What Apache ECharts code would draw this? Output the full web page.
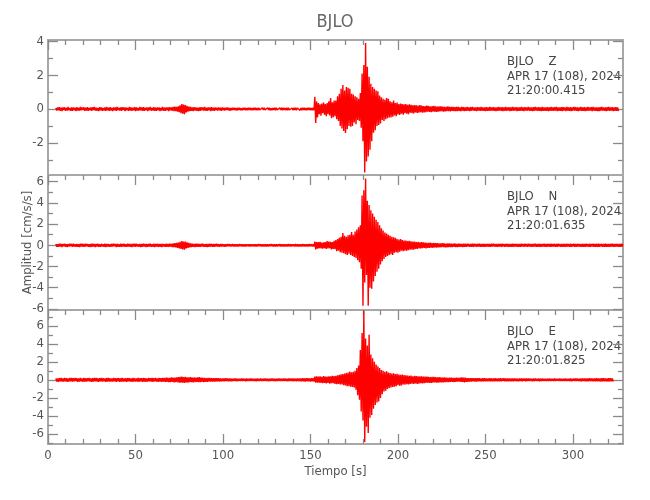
<!DOCTYPE html>
<html>
<head>
<meta charset="utf-8">
<script src="https://cdn.jsdelivr.net/npm/echarts@6/dist/echarts.min.js"></script>
<style>html,body{margin:0;padding:0;background:#fff}#c{width:650px;height:500px}</style>
</head>
<body>
<div id="c"></div>
<script>
// Sampling of the traces (seconds)
const T0 = 4.5;
const DT = 0.5;

// Acceleration samples [cm/s/s], component Z
const zAccel = [
.06,-.09,.1,-.07,.11,-.1,.08,-.12,.09,-.06,.1,-.11,.07,-.09,.12,-.08,.06,-.1,.09,-.11,
.1,-.07,.08,-.12,.11,-.09,.07,-.1,.12,-.08,.09,-.06,.1,-.11,.08,-.09,.11,-.1,.07,-.08,
.09,-.11,.1,-.06,.12,-.09,.08,-.1,.07,-.12,.11,-.08,.09,-.1,.06,-.09,.1,-.11,.12,-.07,
.08,-.1,.11,-.09,.07,-.12,.1,-.08,.09,-.11,.12,-.07,.08,-.09,.1,-.1,.11,-.06,.09,-.12,
.1,-.08,.07,-.11,.12,-.09,.09,-.1,.08,-.07,.11,-.12,.1,-.09,.07,-.1,.12,-.08,.09,-.11,
.11,-.1,.08,-.07,.1,-.12,.09,-.08,.12,-.1,.07,-.09,.11,-.11,.08,-.1,.1,-.07,.09,-.12,
.07,-.09,.12,-.1,.08,-.11,.1,-.08,.09,-.12,.11,-.07,.1,-.1,.12,-.13,.14,-.12,.13,-.15,
.16,-.18,.22,-.25,.3,-.28,.26,-.3,.24,-.2,.18,-.16,.14,-.13,.12,-.11,.1,-.12,.11,-.09,
.1,-.11,.08,-.12,.09,-.1,.11,-.08,.1,-.09,.12,-.1,.08,-.11,.09,-.07,.1,-.12,.11,-.09,
.08,-.1,.09,-.08,.07,-.09,.1,-.07,.08,-.1,.09,-.08,.07,-.09,.08,-.06,.09,-.08,.07,-.1,
.06,-.08,.07,-.06,.08,-.07,.06,-.09,.07,-.06,.08,-.07,.05,-.08,.07,-.06,.08,-.07,.06,-.08,
.07,-.06,.08,-.07,.06,-.08,.07,-.05,.08,-.07,.06,-.08,.07,-.06,.05,-.07,.08,-.06,.07,-.05,
.06,-.07,.08,-.06,.07,-.08,.05,-.07,.06,-.06,.08,-.07,.07,-.05,.06,-.08,.07,-.06,.08,-.07,
.07,-.06,.06,-.08,.07,-.07,.08,-.06,.05,-.07,.06,-.08,.07,-.06,.08,-.07,.06,-.05,.07,-.08,
.06,-.07,.08,-.06,.07,-.08,.06,-.07,.08,-.06,.07,-.08,.06,-.07,.08,-.07,.72,-.82,.45,-.5,
.35,-.3,.28,-.4,.32,-.25,.38,-.33,.3,-.42,.36,-.3,.45,-.38,.65,-.55,.4,-.48,.5,-.42,
.5,-.6,.75,-.7,.9,-1.0,1.2,-1.15,1.42,-1.3,1.1,-1.42,1.3,-1.2,1.25,-1.0,1.2,-1.05,.9,-1.0,
.85,-.8,.75,-.9,.7,-.65,.6,-.7,.95,-1.1,2.1,-1.9,2.6,-3.75,3.9,-3.1,2.5,-2.8,1.9,-2.4,
1.5,-1.9,1.3,-1.4,1.2,-1.25,1.1,-1.0,1.05,-.95,.8,-.85,.7,-.65,.6,-.7,.55,-.6,.65,-.55,
.6,-.5,.45,-.5,.4,-.45,.5,-.38,.35,-.42,.38,-.32,.3,-.35,.32,-.28,.3,-.33,.28,-.25,
.3,-.27,.25,-.3,.28,-.22,.25,-.24,.22,-.26,.24,-.2,.22,-.23,.2,-.22,.24,-.19,.2,-.21,
.18,-.2,.17,-.19,.2,-.16,.18,-.17,.15,-.19,.17,-.16,.18,-.15,.16,-.17,.14,-.16,.15,-.14,
.15,-.13,.14,-.15,.12,-.14,.13,-.12,.15,-.13,.12,-.14,.13,-.11,.12,-.13,.11,-.12,.13,-.12,
.12,-.11,.1,-.13,.12,-.1,.11,-.12,.1,-.11,.12,-.1,.09,-.12,.11,-.1,.12,-.09,.1,-.11,
.1,-.12,.11,-.09,.1,-.11,.12,-.1,.09,-.11,.1,-.12,.11,-.1,.09,-.11,.12,-.1,.1,-.09,
.11,-.1,.09,-.12,.1,-.11,.12,-.09,.1,-.1,.11,-.12,.09,-.1,.12,-.11,.1,-.09,.11,-.12,
.09,-.11,.12,-.1,.1,-.09,.11,-.12,.1,-.11,.09,-.1,.12,-.11,.1,-.12,.11,-.09,.1,-.1,
.12,-.1,.1,-.11,.09,-.12,.11,-.1,.12,-.09,.1,-.11,.11,-.1,.09,-.12,.12,-.11,.1,-.1,
.1,-.11,.11,-.12,.09,-.1,.12,-.11,.1,-.1,.11,-.09,.12,-.12,.1,-.11,.09,-.1,.11,-.12,
.11,-.09,.1,-.12,.12,-.1,.09,-.11,.11,-.12,.1,-.1,.12,-.09,.11,-.11,.1,-.12,.09,-.1,
.12,-.11,.1,-.1,.11,-.12,.09,-.11,.12,-.1,.1,-.09,.11,-.12,.12,-.1,.1,-.11,.09,-.12,
.1,-.12,.11,-.1,.12,-.09,.1,-.11,.09,-.12,.11,-.1,.12,-.11,.1,-.09,.11,-.12,.1,-.1,
.11,-.1,.09,-.12
];

// Acceleration samples [cm/s/s], component N
const nAccel = [
.12,-.15,.1,-.13,.16,-.11,.14,-.16,.12,-.1,.15,-.14,.11,-.16,.13,-.12,.15,-.1,.14,-.15,
.16,-.12,.11,-.15,.13,-.14,.1,-.16,.15,-.11,.14,-.13,.12,-.15,.16,-.1,.13,-.14,.11,-.16,
.14,-.13,.15,-.11,.12,-.16,.13,-.12,.16,-.14,.1,-.15,.14,-.12,.11,-.13,.15,-.16,.12,-.11,
.13,-.15,.11,-.14,.16,-.12,.15,-.1,.12,-.16,.14,-.13,.1,-.15,.16,-.14,.12,-.11,.15,-.13,
.11,-.14,.16,-.12,.13,-.15,.12,-.16,.14,-.11,.15,-.13,.16,-.12,.11,-.14,.13,-.16,.12,-.15,
.15,-.11,.13,-.16,.12,-.14,.14,-.12,.16,-.15,.11,-.13,.15,-.16,.13,-.11,.14,-.15,.12,-.14,
.13,-.16,.14,-.12,.11,-.15,.16,-.13,.12,-.14,.15,-.11,.14,-.16,.17,-.18,.2,-.19,.22,-.24,
.25,-.28,.32,-.35,.4,-.38,.36,-.42,.35,-.3,.28,-.25,.22,-.2,.18,-.17,.16,-.15,.14,-.16,
.15,-.13,.16,-.14,.12,-.15,.14,-.12,.16,-.13,.11,-.15,.14,-.16,.12,-.13,.15,-.11,.13,-.14,
.12,-.14,.13,-.11,.14,-.12,.1,-.13,.12,-.11,.13,-.12,.1,-.14,.11,-.12,.13,-.1,.12,-.11,
.11,-.1,.12,-.11,.09,-.12,.11,-.1,.1,-.11,.12,-.09,.1,-.11,.09,-.1,.11,-.12,.1,-.09,
.1,-.11,.09,-.1,.11,-.09,.1,-.12,.09,-.1,.11,-.1,.12,-.09,.1,-.11,.09,-.1,.11,-.1,
.09,-.1,.11,-.12,.1,-.09,.12,-.1,.11,-.11,.09,-.12,.1,-.1,.11,-.09,.12,-.11,.1,-.1,
.11,-.12,.1,-.1,.09,-.11,.12,-.1,.1,-.12,.11,-.09,.1,-.11,.12,-.1,.09,-.12,.11,-.1,
.1,-.11,.12,-.1,.09,-.12,.11,-.1,.1,-.11,.12,-.09,.11,-.1,.1,-.12,.35,-.38,.3,-.32,
.3,-.28,.33,-.3,.25,-.32,.28,-.26,.3,-.35,.4,-.3,.35,-.28,.32,-.38,.3,-.34,.42,-.36,
.5,-.55,.6,-.5,.7,-.65,.8,-.7,1.15,-.75,.9,-.85,.8,-.9,.95,-.8,1.0,-.9,1.25,-1.0,
1.0,-1.1,1.3,-1.2,1.5,-1.4,1.7,-1.6,1.9,-2.2,4.7,-5.7,5.2,-3.5,6.3,-2.8,4.2,-5.7,3.8,-4.0,
3.3,-4.1,3.0,-3.4,2.7,-2.9,2.4,-2.5,2.2,-2.2,1.9,-1.8,1.6,-1.5,1.4,-1.3,1.2,-1.1,1.1,-1.0,
1.0,-.9,.9,-.85,.8,-.9,.75,-.7,.7,-.65,.6,-.7,.55,-.6,.6,-.5,.5,-.55,.45,-.5,
.45,-.5,.4,-.45,.42,-.4,.38,-.42,.35,-.4,.36,-.33,.3,-.35,.32,-.3,.28,-.3,.3,-.27,
.27,-.25,.26,-.28,.24,-.25,.22,-.24,.25,-.22,.2,-.23,.22,-.2,.21,-.22,.2,-.19,.18,-.2,
.19,-.18,.2,-.17,.18,-.19,.16,-.18,.17,-.16,.18,-.17,.15,-.17,.16,-.15,.17,-.16,.14,-.16,
.15,-.14,.16,-.15,.13,-.16,.15,-.13,.14,-.15,.16,-.12,.14,-.15,.13,-.14,.15,-.13,.14,-.12,
.13,-.15,.14,-.12,.15,-.13,.12,-.14,.14,-.13,.12,-.15,.13,-.12,.14,-.14,.12,-.13,.15,-.12,
.14,-.12,.13,-.14,.12,-.15,.14,-.12,.13,-.13,.15,-.12,.12,-.14,.13,-.12,.14,-.15,.12,-.13,
.12,-.14,.15,-.13,.13,-.12,.14,-.15,.12,-.13,.13,-.14,.15,-.12,.12,-.13,.14,-.12,.13,-.15,
.15,-.12,.12,-.14,.13,-.15,.14,-.12,.15,-.13,.12,-.14,.14,-.13,.13,-.15,.12,-.12,.14,-.13,
.13,-.14,.14,-.12,.12,-.13,.15,-.14,.13,-.12,.14,-.15,.12,-.13,.15,-.12,.13,-.14,.12,-.15,
.14,-.13,.12,-.15,.15,-.12,.13,-.14,.14,-.13,.12,-.12,.15,-.14,.13,-.15,.14,-.12,.12,-.13,
.12,-.15,.14,-.13,.13,-.14,.15,-.12,.12,-.15,.14,-.13,.13,-.12,.15,-.14,.12,-.13,.14,-.15,
.15,-.13,.13,-.12,.14,-.15,.12,-.14,.15,-.13,.13,-.14,.12,-.15,.14,-.12,.15,-.13,.13,-.14,
.14,-.12,.13,-.15,.12,-.14,.15,-.13,.12
];

// Acceleration samples [cm/s/s], component E
const eAccel = [
.17,-.2,.15,-.22,.19,-.16,.21,-.18,.16,-.2,.22,-.17,.18,-.21,.15,-.19,.2,-.16,.22,-.18,
.19,-.17,.21,-.15,.18,-.22,.16,-.19,.2,-.17,.15,-.21,.22,-.18,.17,-.2,.19,-.15,.21,-.19,
.16,-.21,.18,-.19,.22,-.16,.2,-.18,.17,-.22,.19,-.16,.21,-.2,.18,-.17,.15,-.21,.2,-.18,
.21,-.18,.17,-.2,.16,-.19,.22,-.17,.19,-.21,.18,-.15,.2,-.22,.17,-.19,.21,-.18,.16,-.2,
.18,-.22,.2,-.17,.19,-.18,.16,-.21,.22,-.19,.17,-.2,.15,-.18,.21,-.22,.19,-.16,.18,-.21,
.2,-.19,.18,-.22,.17,-.2,.21,-.16,.19,-.18,.22,-.21,.18,-.17,.2,-.19,.16,-.22,.21,-.18,
.19,-.21,.22,-.18,.2,-.22,.24,-.21,.23,-.25,.22,-.24,.26,-.23,.25,-.27,.24,-.26,.28,-.25,
.3,-.32,.34,-.3,.36,-.32,.31,-.35,.32,-.29,.28,-.31,.27,-.26,.29,-.25,.24,-.27,.26,-.24,
.25,-.23,.27,-.24,.3,-.26,.24,-.22,.23,-.25,.22,-.21,.2,-.22,.21,-.19,.2,-.18,.19,-.2,
.18,-.19,.17,-.18,.19,-.16,.17,-.18,.16,-.17,.15,-.17,.16,-.15,.17,-.14,.15,-.16,.14,-.15,
.14,-.15,.13,-.14,.15,-.13,.14,-.15,.13,-.14,.12,-.14,.15,-.13,.14,-.12,.13,-.15,.14,-.13,
.13,-.14,.15,-.12,.14,-.13,.12,-.14,.13,-.15,.14,-.12,.13,-.14,.15,-.13,.12,-.14,.14,-.12,
.14,-.13,.12,-.15,.13,-.14,.15,-.12,.14,-.13,.13,-.15,.12,-.14,.14,-.13,.15,-.12,.13,-.14,
.15,-.14,.14,-.13,.12,-.15,.14,-.14,.16,-.13,.14,-.15,.15,-.14,.13,-.16,.16,-.14,.15,-.17,
.16,-.15,.17,-.16,.15,-.18,.17,-.16,.18,-.17,.16,-.18,.19,-.17,.18,-.19,.35,-.32,.38,-.3,
.36,-.32,.4,-.35,.33,-.38,.42,-.34,.37,-.4,.35,-.33,.38,-.42,.4,-.36,.44,-.38,.42,-.45,
.45,-.48,.5,-.45,.55,-.5,.6,-.52,.65,-.6,.7,-.62,.75,-.7,.8,-.72,.92,-.75,.85,-.8,
.9,-.85,1.0,-1.1,1.3,-1.7,1.6,-2.2,3.3,-3.5,5.2,-4.5,7.7,-6.9,4.6,-5.2,3.8,-5.9,5.0,-4.2,
2.8,-3.9,2.4,-3.2,2.0,-2.8,1.7,-2.5,1.5,-2.4,1.3,-2.0,1.1,-1.6,1.0,-1.3,.9,-1.2,.95,-1.0,
.8,-.9,.75,-.85,.7,-.8,.72,-.75,.65,-.7,.68,-.6,.6,-.65,.55,-.62,.58,-.5,.52,-.55,
.5,-.48,.46,-.5,.44,-.45,.48,-.42,.4,-.46,.45,-.4,.42,-.44,.38,-.42,.4,-.36,.38,-.4,
.36,-.38,.35,-.34,.37,-.32,.33,-.35,.3,-.33,.32,-.3,.34,-.29,.3,-.31,.28,-.3,.29,-.27,
.26,-.28,.25,-.27,.28,-.24,.25,-.26,.23,-.25,.24,-.22,.25,-.23,.22,-.24,.21,-.22,.23,-.2,
.22,-.2,.24,-.23,.26,-.22,.25,-.27,.24,-.22,.2,-.21,.19,-.2,.18,-.2,.19,-.17,.18,-.19,
.17,-.18,.19,-.16,.18,-.17,.16,-.18,.17,-.15,.18,-.16,.15,-.17,.16,-.15,.17,-.16,.15,-.17,
.16,-.15,.17,-.16,.14,-.17,.16,-.15,.18,-.16,.15,-.14,.17,-.16,.16,-.15,.14,-.17,.16,-.15,
.15,-.16,.14,-.15,.16,-.14,.15,-.16,.13,-.15,.16,-.14,.14,-.15,.15,-.13,.14,-.16,.15,-.14,
.14,-.13,.15,-.14,.13,-.15,.14,-.12,.15,-.14,.13,-.13,.14,-.15,.12,-.14,.15,-.13,.13,-.14,
.13,-.14,.12,-.13,.14,-.12,.13,-.14,.12,-.13,.14,-.12,.13,-.11,.12,-.13,.14,-.12,.11,-.13,
.12,-.13,.14,-.12,.13,-.14,.12,-.13,.14,-.15,.13,-.14,.15,-.13,.14,-.12,.15,-.14,.13,-.15,
.14,-.15,.16,-.14,.15,-.16,.14,-.17,.16,-.15,.17,-.14,.15,-.16,.14,-.17,.16,-.15,.17,-.16,
.15,-.17,.16,-.18,.17,-.15,.18,-.16,.15,-.17,.16,-.18,.17,-.15,.18,-.17,.16,-.18
];

const stationName = 'BJLO';
const components = ['Z', 'N', 'E'];
const dateLine = 'APR 17 (108), 2024';
const startTimes = ['21:20:00.415', '21:20:01.635', '21:20:01.825'];
const traces = [zAccel, nAccel, eAccel];
const yMins = [-3.9, -6.1, -7.12];
const yMaxs = [4.08, 6.63, 7.75];
const xMin = 0, xMax = 328.6;
const xMajorTicks = [0, 50, 100, 150, 200, 250, 300];
const xMinorTicks = [10, 20, 30, 40, 60, 70, 80, 90, 110, 120, 130, 140, 160, 170, 180, 190,
  210, 220, 230, 240, 260, 270, 280, 290, 310, 320];
const yMajorTicks = [[-2, 0, 2, 4], [-6, -4, -2, 0, 2, 4, 6], [-6, -4, -2, 0, 2, 4, 6]];
const yMinorTicks = [[-3, -1, 1, 3], [-5, -3, -1, 1, 3, 5], [-7, -5, -3, -1, 1, 3, 5, 7]];
const xTitle = 'Tiempo [s]';
const yTitle = 'Amplitud [cm/s/s]';

const FONT = "'Liberation Sans Narrow','DejaVu Sans Condensed','Roboto Condensed',sans-serif";
const AX = '#a8a8a8';
const TICK = '#8a8a8a';
const TXT = '#555';
const gridTops = [40, 175, 310];
const gridHeights = [135, 135, 134];

const grid = gridTops.map((t, i) => ({
  left: 48, right: 27, top: t, height: gridHeights[i],
  show: true, borderColor: AX, borderWidth: 2, backgroundColor: 'transparent'
}));

const xAxis = [], yAxis = [], series = [];

function xAx(g, pos, ticks, len, showTick, showLabel, name) {
  xAxis.push({
    type: 'value', gridIndex: g, position: pos, min: xMin, max: xMax,
    axisLine: { show: false, onZero: false }, splitLine: { show: false },
    axisTick: { show: showTick, inside: true, length: len, customValues: ticks,
      lineStyle: { color: TICK, width: 1.3 } },
    axisLabel: { show: showLabel, margin: 5, color: TXT, fontSize: 13, fontFamily: FONT,
      customValues: ticks, formatter: v => String(v) },
    name: name || '', nameLocation: 'middle', nameGap: 21, nameMoveOverlap: false,
    nameTextStyle: { color: TXT, fontSize: 13, fontFamily: FONT }
  });
  return xAxis.length - 1;
}
function yAx(g, pos, ticks, len, showLabel, name) {
  yAxis.push({
    type: 'value', gridIndex: g, position: pos, min: yMins[g], max: yMaxs[g],
    axisLine: { show: false, onZero: false }, splitLine: { show: false },
    axisTick: { show: true, inside: true, length: len, customValues: ticks,
      lineStyle: { color: TICK, width: 1.3 } },
    axisLabel: { show: showLabel, margin: 4, color: TXT, fontSize: 13, fontFamily: FONT,
      customValues: ticks, formatter: v => String(v) },
    name: name || '', nameLocation: 'middle', nameGap: 14, nameMoveOverlap: false,
    nameTextStyle: { color: TXT, fontSize: 13, fontFamily: FONT }
  });
  return yAxis.length - 1;
}

const graphic = [{
  type: 'text', x: 335, y: 22,
  style: { text: stationName, fill: '#666', font: '18px ' + FONT, align: 'center', verticalAlign: 'middle' }
}];

traces.forEach((arr, g) => {
  const last = g === 2;
  const xi = xAx(g, 'bottom', xMajorTicks, 10, last, last, last ? xTitle : '');
  if (last) xAx(g, 'bottom', xMinorTicks, 5, true, false);
  xAx(g, 'top', xMajorTicks, 10, true, false);
  xAx(g, 'top', xMinorTicks, 5, true, false);
  const yi = yAx(g, 'left', yMajorTicks[g], 10, true, g === 1 ? yTitle : '');
  yAx(g, 'left', yMinorTicks[g], 5, false);
  yAx(g, 'right', yMajorTicks[g], 10, false);
  yAx(g, 'right', yMinorTicks[g], 5, false);
  series.push({
    type: 'line', xAxisIndex: xi, yAxisIndex: yi, symbol: 'none', showSymbol: false,
    lineStyle: { color: '#ff0000', width: 1.4 }, silent: true,
    data: arr.map((v, i) => [T0 + i * DT, v])
  });
  const lines = [stationName + '    ' + components[g], dateLine, startTimes[g]];
  lines.forEach((s, k) => graphic.push({
    type: 'text', x: 507, y: gridTops[g] + 22 + k * 14.3,
    style: { text: s, fill: '#444', font: '13px ' + FONT, verticalAlign: 'middle' }
  }));
});

const chart = echarts.init(document.getElementById('c'));
chart.setOption({ animation: false, grid, xAxis, yAxis, series, graphic });
</script>
</body>
</html>
